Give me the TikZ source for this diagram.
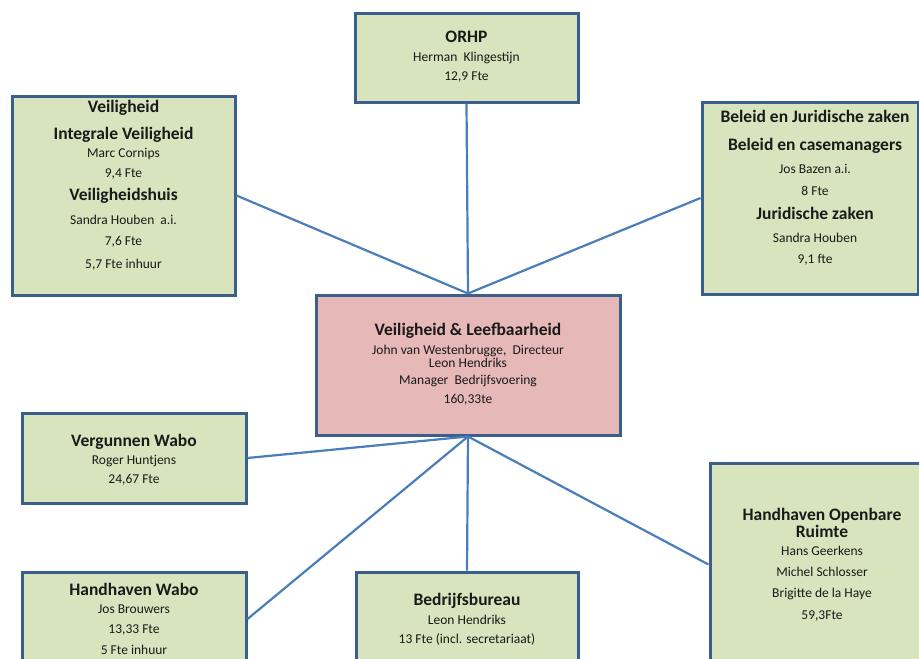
\documentclass[tikz,border=0pt]{standalone}
\usepackage{fontspec}
\setmainfont{Carlito}
\usepackage{xcolor}
\usepackage{tikz}
\usetikzlibrary{positioning}

\definecolor{boxgreen}{HTML}{D7E4BD}
\definecolor{boxpink}{HTML}{E6B9B8}
\definecolor{boxedge}{HTML}{3A5F8C}
\definecolor{linkblue}{HTML}{4A7EBB}
\definecolor{txtblack}{HTML}{1A1A1A}

\newcommand{\hd}[1]{{\fontsize{17.5}{20}\selectfont\bfseries #1}}

\begin{document}
\begin{tikzpicture}[x=1pt,y=-1pt,
  unit/.style={draw=boxedge, line width=3pt, fill=boxgreen, minimum width=223pt, inner sep=0pt},
  head/.style={unit, fill=boxpink},
  txt/.style={align=center, text=txtblack, font=\fontsize{13.5}{20}\selectfont, inner sep=0pt},
  link/.style={draw=linkblue, line width=2.2pt}]

\useasboundingbox (0,0) rectangle (919,659);
\clip (0,0) rectangle (919,659);

%Units
\node[head, minimum width=304pt, minimum height=140pt] (vl) at (468,365) {};
\node[unit, minimum height=89pt] (orhp) at (466.5,57.5) {};
\node[unit, minimum height=199pt] (veil) at (123.5,195.5) {};
\node[unit, minimum width=216pt, minimum height=192pt] (beleid) at (810,198) {};
\node[unit, minimum width=224pt, minimum height=90pt] (verg) at (134,458) {};
\node[unit, minimum width=224pt, minimum height=94pt] (hwabo) at (134,619) {};
\node[unit, minimum width=222pt, minimum height=94pt] (bedrijf) at (467,619) {};
\node[unit, minimum width=224pt, minimum height=203pt] (hor) at (822,564.5) {};

%Links
\draw[link] (vl.north) -- (orhp.south);
\draw[link] (vl.north) -- (veil.east);
\draw[link] (vl.north) -- (beleid.west);
\draw[link] (vl.south) -- (verg.east);
\draw[link] (vl.south) -- (hwabo.east);
\draw[link] (vl.south) -- (bedrijf.north);
\draw[link] (vl.south) -- (hor.west);

%Texts
\node[txt] (vl-t) at (468,364) {\hd{Veiligheid \& Leefbaarheid}\\[-1pt]
  John van Westenbrugge,\ \ Directeur\\[-7pt] Leon Hendriks\\[-3pt]
  Manager\ \ Bedrijfsvoering\\[-1pt] 160,33te};
\node[txt] (orhp-t) at (466.5,57) {\hd{ORHP}\\[-1pt] Herman\ \ Klingestijn\\[-1pt] 12,9 Fte};
\node[txt] (veil-t) at (123.5,185) {\hd{Veiligheid}\\[7pt] \hd{Integrale Veiligheid}\\[-2pt]
  Marc Cornips\\ 9,4 Fte\\[3pt] \hd{Veiligheidshuis}\\[4pt] Sandra Houben\ \ a.i.\\[1pt]
  7,6 Fte\\[3pt] 5,7 Fte inhuur};
\node[txt] (beleid-t) at (815,187.5) {\hd{Beleid en Juridische zaken}\\[8pt]
  \hd{Beleid en casemanagers}\\[3pt] Jos Bazen a.i.\\[2pt] 8 Fte\\[4pt]
  \hd{Juridische zaken}\\[3pt] Sandra Houben\\[1pt] 9,1 fte};
\node[txt] (verg-t) at (134,459.5) {\hd{Vergunnen Wabo}\\[-2pt] Roger Huntjens\\[-1pt] 24,67 Fte};
\node[txt] (hwabo-t) at (134,618.5) {\hd{Handhaven Wabo}\\[-2pt] Jos Brouwers\\ 13,33 Fte\\[1pt] 5 Fte inhuur};
\node[txt] (bedrijf-t) at (467,619) {\hd{Bedrijfsbureau}\\[-1pt] Leon Hendriks\\[-1pt] 13 Fte (incl. secretariaat)};
\node[txt] (hor-t) at (822,564.5) {\hd{Handhaven Openbare}\\[-3pt] \hd{Ruimte}\\[-2pt]
  Hans Geerkens\\[1pt] Michel Schlosser\\[1pt] Brigitte de la Haye\\[2pt] 59,3Fte};

\end{tikzpicture}
\end{document}
